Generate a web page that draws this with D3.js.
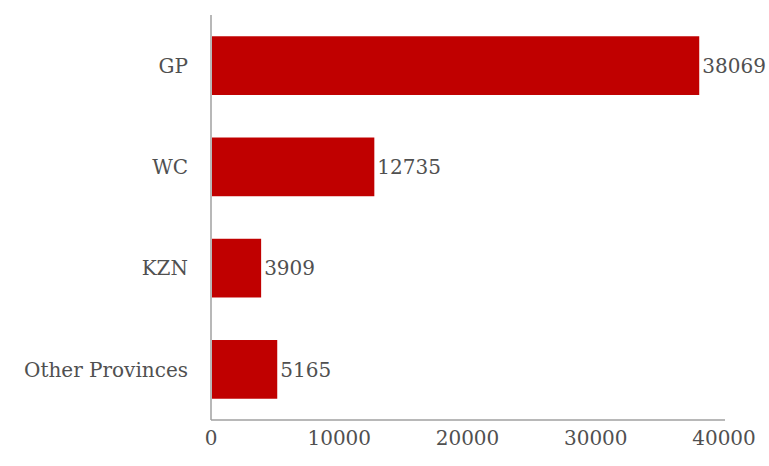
<!DOCTYPE html>
<html><head><meta charset="utf-8">
<script src="https://cdn.jsdelivr.net/npm/d3@7"></script>
<style>body{margin:0;background:#fff}text{font-family:"DejaVu Serif","Liberation Serif",serif}</style>
</head><body>
<svg id="c" width="769" height="466"></svg>
<script>
const categories = ["GP", "WC", "KZN", "Other Provinces"];
const values = [38069, 12735, 3909, 5165];
const tickValues = [0, 10000, 20000, 30000, 40000];

(function () {
const svg = d3.select("#c");
const mLeft = 211, mRight = 724, mTop = 15, mBottom = 420;
const x = d3.scaleLinear().domain([0, 40000]).range([mLeft, mRight]);
const y = d3.scaleBand().domain(categories).range([mTop, mBottom]).paddingInner(0.42).paddingOuter(0.21);
const txt = "#505050";

svg.append("line").attr("x1", mLeft).attr("x2", mLeft).attr("y1", mTop).attr("y2", mBottom).attr("stroke", "#a0a0a0").attr("stroke-width", 1.5);
svg.append("line").attr("x1", mLeft).attr("x2", mRight + 1).attr("y1", mBottom).attr("y2", mBottom).attr("stroke", "#a0a0a0").attr("stroke-width", 1.5);

svg.selectAll("rect.bar").data(categories).enter().append("rect")
  .attr("x", x(0) + 1).attr("y", d => y(d))
  .attr("width", (d, i) => x(values[i]) - x(0) - 1)
  .attr("height", y.bandwidth())
  .attr("fill", "#c00000");

svg.selectAll("text.val").data(categories).enter().append("text")
  .attr("x", (d, i) => x(values[i]) + 3)
  .attr("y", d => y(d) + y.bandwidth() / 2)
  .attr("dy", "0.36em").attr("font-size", 20).attr("fill", txt)
  .text((d, i) => values[i]);

svg.selectAll("text.cat").data(categories).enter().append("text")
  .attr("x", 188).attr("y", d => y(d) + y.bandwidth() / 2)
  .attr("dy", "0.36em").attr("text-anchor", "end").attr("font-size", 20).attr("fill", txt)
  .text(d => d);

svg.selectAll("text.tick").data(tickValues).enter().append("text")
  .attr("x", d => x(d)).attr("y", 445)
  .attr("text-anchor", "middle").attr("font-size", 20).attr("fill", txt)
  .text(d => d);
})();
</script>
</body></html>
